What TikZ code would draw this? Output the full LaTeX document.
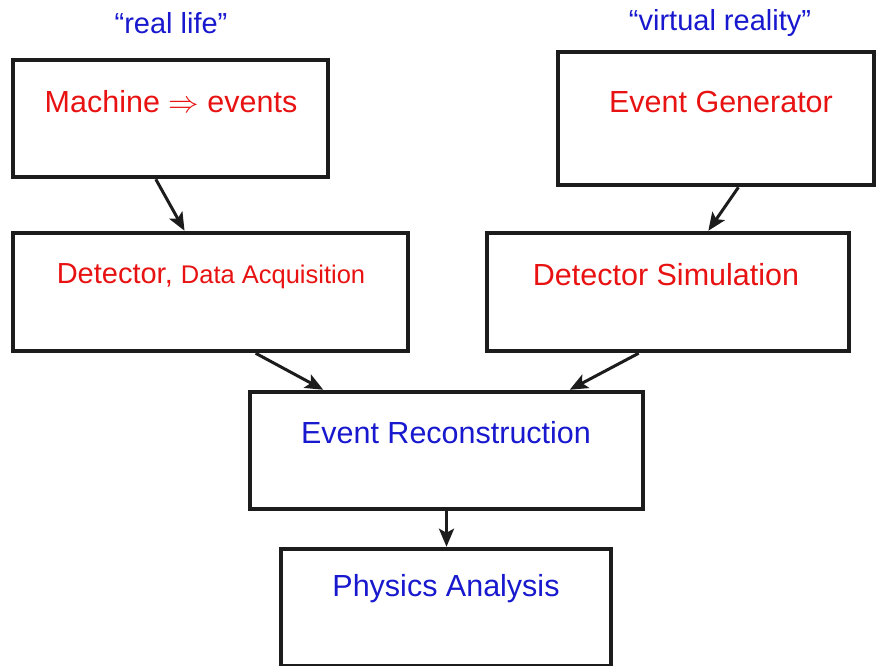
\RequirePackage{fix-cm}
\documentclass[tikz,border=0pt]{standalone}
\usepackage{fontspec}
\setmainfont{Liberation Sans}
\usetikzlibrary{arrows.meta,calc}
\definecolor{txtred}{RGB}{232,18,18}
\definecolor{txtblue}{RGB}{24,24,206}
\definecolor{edgecol}{RGB}{28,28,28}
\begin{document}
\begin{tikzpicture}[x=1pt,y=-1pt,
  box/.style={draw=edgecol,line width=4.5pt,inner sep=0pt,fill=white},
  redtxt/.style={text=txtred,font=\fontsize{30.5}{36}\selectfont,anchor=base,inner sep=0pt},
  bluetxt/.style={text=txtblue,font=\fontsize{30.5}{36}\selectfont,anchor=base,inner sep=0pt},
  toptxt/.style={text=txtblue,font=\fontsize{29}{34}\selectfont,anchor=base,inner sep=0pt},
  flow/.style={draw=edgecol,line width=3pt,-{Stealth[length=18pt,width=15pt,inset=4pt]}}]
\useasboundingbox (0,0) rectangle (876,666);
\fill[white] (0,0) rectangle (876,666);

% boxes
\node[box,minimum width=315pt,minimum height=117pt] (b1) at (170.5,118.5) {};
\node[box,minimum width=316pt,minimum height=133pt] (b2) at (716,118.5) {};
\node[box,minimum width=395pt,minimum height=118pt] (b3) at (210.5,292) {};
\node[box,minimum width=362pt,minimum height=118pt] (b4) at (668,292) {};
\node[box,minimum width=393pt,minimum height=117pt] (b5) at (446.5,450.5) {};
\node[box,minimum width=330pt,minimum height=117pt] (b6) at (446,607.5) {};

% headings
\node[toptxt] (h1) at (171,34) {“real life”};
\node[toptxt] (h2) at (720,31) {“virtual reality”};

% box texts
\node[redtxt] (t1) at (171,113) {Machine $\Rightarrow$ events};
\node[redtxt] (t2) at (721,113) {Event Generator};
\node[redtxt] (t3) at (211,283) {\fontsize{29}{34}\selectfont Detector, \fontsize{25.5}{30}\selectfont Data Acquisition};
\node[redtxt] (t4) at (666,285) {Detector Simulation};
\node[bluetxt] (t5) at (446,443) {Event Reconstruction};
\node[bluetxt] (t6) at (446,596) {Physics Analysis};

% connectors
\draw[flow] ($(b1.south west)!0.454!(b1.south east)$) -- ($(b3.north west)!0.435!(b3.north east)$);
\draw[flow] ($(b2.south west)!0.57!(b2.south east)$) -- ($(b4.north west)!0.61!(b4.north east)$);
\draw[flow] ($(b3.south west)!0.613!(b3.south east)$) -- ($(b5.north west)!0.19!(b5.north east)$);
\draw[flow] ($(b4.south west)!0.42!(b4.south east)$) -- ($(b5.north west)!0.81!(b5.north east)$);
\draw[flow] (b5.south) -- (b5.south |- b6.north);
\end{tikzpicture}
\end{document}
